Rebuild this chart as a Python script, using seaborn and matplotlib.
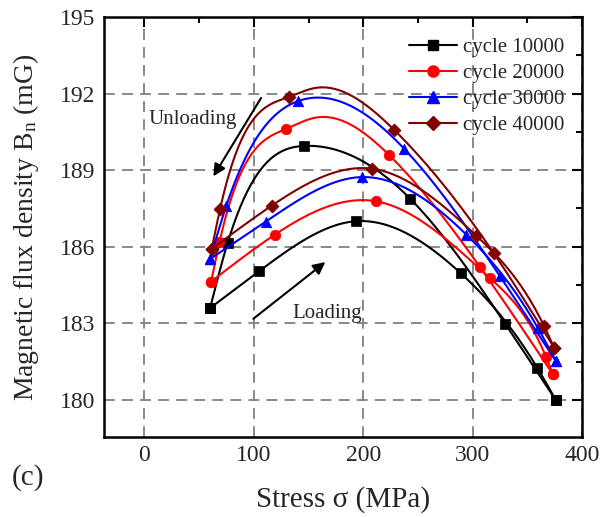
import numpy as np
import pandas as pd
import matplotlib
matplotlib.use("Agg")
import matplotlib.pyplot as plt
from matplotlib.lines import Line2D
from matplotlib.ticker import MultipleLocator
import seaborn as sns

# ---------------- data ----------------
series_names = ["cycle 10000", "cycle 20000", "cycle 30000", "cycle 40000"]

# marked measurement points
c1_load_x = [60, 105, 193, 289, 359, 376]
c1_load_y = [183.6, 185.05, 187.0, 184.97, 181.27, 180.0]
c1_unload_x = [376, 330, 243, 146, 76, 60]
c1_unload_y = [180.0, 182.97, 187.88, 189.95, 186.15, 183.6]

c2_load_x = [61, 119, 212, 316, 367, 373.5]
c2_load_y = [184.64, 186.47, 187.78, 184.77, 181.7, 181.0]
c2_unload_x = [373.5, 307, 224, 129.5, 68.5, 61]
c2_unload_y = [181.0, 185.19, 189.58, 190.62, 186.17, 184.64]

c3_load_x = [60, 111, 198.5, 294.4, 359.8, 376]
c3_load_y = [185.52, 186.99, 188.73, 186.47, 182.81, 181.53]
c3_unload_x = [376, 324.8, 237.4, 140, 74.6, 60]
c3_unload_y = [181.53, 184.86, 189.84, 191.7, 187.58, 185.52]

c4_load_x = [61.5, 116.3, 207.6, 303.5, 365.3, 374.5]
c4_load_y = [185.92, 187.61, 189.06, 186.43, 182.9, 182.05]
c4_unload_x = [374.5, 319.3, 228, 132.1, 69.1, 61.5]
c4_unload_y = [182.05, 185.75, 190.59, 191.87, 187.48, 185.92]

# unmarked curve points (curve maxima)
c2_unload_peak_x = [158]
c2_unload_peak_y = [191.07]
c4_unload_peak_x = [156]
c4_unload_peak_y = [192.22]

x_ticks = [0, 100, 200, 300, 400]
y_ticks = [180, 183, 186, 189, 192, 195]

colors = ["#000000", "#ff0000", "#0000ff", "#800000"]
markers = ["s", "o", "^", "D"]
msizes = [7, 8, 8, 7]

curves = [
    [(c1_load_x, c1_load_y, [], []), (c1_unload_x, c1_unload_y, [], [])],
    [(c2_load_x, c2_load_y, [], []),
     (c2_unload_x, c2_unload_y, c2_unload_peak_x, c2_unload_peak_y)],
    [(c3_load_x, c3_load_y, [], []), (c3_unload_x, c3_unload_y, [], [])],
    [(c4_load_x, c4_load_y, [], []),
     (c4_unload_x, c4_unload_y, c4_unload_peak_x, c4_unload_peak_y)],
]


def natural_spline(x, y, n=300):
    """Smooth connecting line through the given points (natural cubic spline)."""
    x = np.asarray(x, float)
    y = np.asarray(y, float)
    order = np.argsort(x)
    x, y = x[order], y[order]
    m = len(x)
    h = np.diff(x)
    A = np.zeros((m, m))
    b = np.zeros(m)
    A[0, 0] = A[-1, -1] = 1.0
    for i in range(1, m - 1):
        A[i, i - 1] = h[i - 1]
        A[i, i] = 2 * (h[i - 1] + h[i])
        A[i, i + 1] = h[i]
        b[i] = 6 * ((y[i + 1] - y[i]) / h[i] - (y[i] - y[i - 1]) / h[i - 1])
    M = np.linalg.solve(A, b)
    xs = np.linspace(x[0], x[-1], n)
    idx = np.clip(np.searchsorted(x, xs) - 1, 0, m - 2)
    x0, x1 = x[idx], x[idx + 1]
    hh = x1 - x0
    t0 = x1 - xs
    t1 = xs - x0
    ys = (M[idx] * t0 ** 3 / (6 * hh) + M[idx + 1] * t1 ** 3 / (6 * hh)
          + (y[idx] / hh - M[idx] * hh / 6) * t0
          + (y[idx + 1] / hh - M[idx + 1] * hh / 6) * t1)
    return xs, ys


# ---------------- style ----------------
sns.set_style("white")
plt.rcParams["font.family"] = ["Liberation Serif", "DejaVu Serif"]
plt.rcParams["mathtext.fontset"] = "custom"
plt.rcParams["mathtext.rm"] = "Liberation Serif"
plt.rcParams["mathtext.it"] = "Liberation Serif:italic"

fig = plt.figure(figsize=(6.02, 5.17), dpi=100)
ax = fig.add_axes([104 / 602, 1 - 437 / 517, 478 / 602, 420 / 517])

for k, name in enumerate(series_names):
    for (cx, cy, ex, ey) in curves[k]:
        xs, ys = natural_spline(list(cx) + list(ex), list(cy) + list(ey))
        df = pd.DataFrame({"x": xs, "y": ys})
        sns.lineplot(data=df, x="x", y="y", ax=ax, color=colors[k], lw=1.5,
                     sort=False, estimator=None, zorder=3 + k)
        pts = pd.DataFrame({"x": cx, "y": cy})
        sns.scatterplot(data=pts, x="x", y="y", ax=ax, color=colors[k],
                        marker=markers[k], s=msizes[k] ** 2 * 0.9,
                        edgecolor=colors[k], linewidth=0.5, zorder=4 + k)

ax.set_xlim(-37, 400)
ax.set_ylim(178.55, 195)
ax.set_xticks(x_ticks)
ax.set_yticks(y_ticks)
ax.xaxis.set_minor_locator(MultipleLocator(50))
ax.yaxis.set_minor_locator(MultipleLocator(1.5))
ax.tick_params(which="both", direction="in", top=True, right=True,
               labelsize=17, width=1.5, color="black")
ax.tick_params(which="major", length=7, pad=6)
ax.tick_params(which="minor", length=4)
for s in ax.spines.values():
    s.set_linewidth(1.8)
    s.set_color("black")

ax.grid(True, which="major", color="#808080", linestyle=(0, (6, 4)), lw=1.3)
ax.set_axisbelow(True)

ax.set_xlabel("Stress σ (MPa)", fontsize=21, labelpad=14)
ax.set_ylabel(r"Magnetic flux density B$_\mathrm{n}$ (mG)", fontsize=20,
              labelpad=14)

# annotations
ax.annotate("", xy=(63, 188.76), xytext=(106.6, 191.83),
            arrowprops=dict(arrowstyle="-|>", color="black", lw=1.5,
                            mutation_scale=18, shrinkA=0, shrinkB=0))
ax.text(44.2, 190.98, "Unloading", fontsize=15, ha="center", va="center")
ax.annotate("", xy=(165.3, 185.4), xytext=(99.5, 183.18),
            arrowprops=dict(arrowstyle="-|>", color="black", lw=1.5,
                            mutation_scale=18, shrinkA=0, shrinkB=0))
ax.text(166.7, 183.4, "Loading", fontsize=15, ha="center", va="center")

fig.text(12 / 602, 1 - 478 / 517, "(c)", fontsize=21, ha="left", va="center")

handles = [Line2D([0], [0], color=colors[k], lw=1.5, marker=markers[k],
                  markersize=msizes[k], markeredgecolor=colors[k])
           for k in range(4)]
leg = ax.legend(handles, series_names, loc="upper right",
                bbox_to_anchor=(0.99, 0.98), frameon=False, fontsize=15,
                handlelength=2.3, handletextpad=0.3, labelspacing=0.3,
                borderaxespad=0.2)

fig.savefig("out.png", dpi=100)
